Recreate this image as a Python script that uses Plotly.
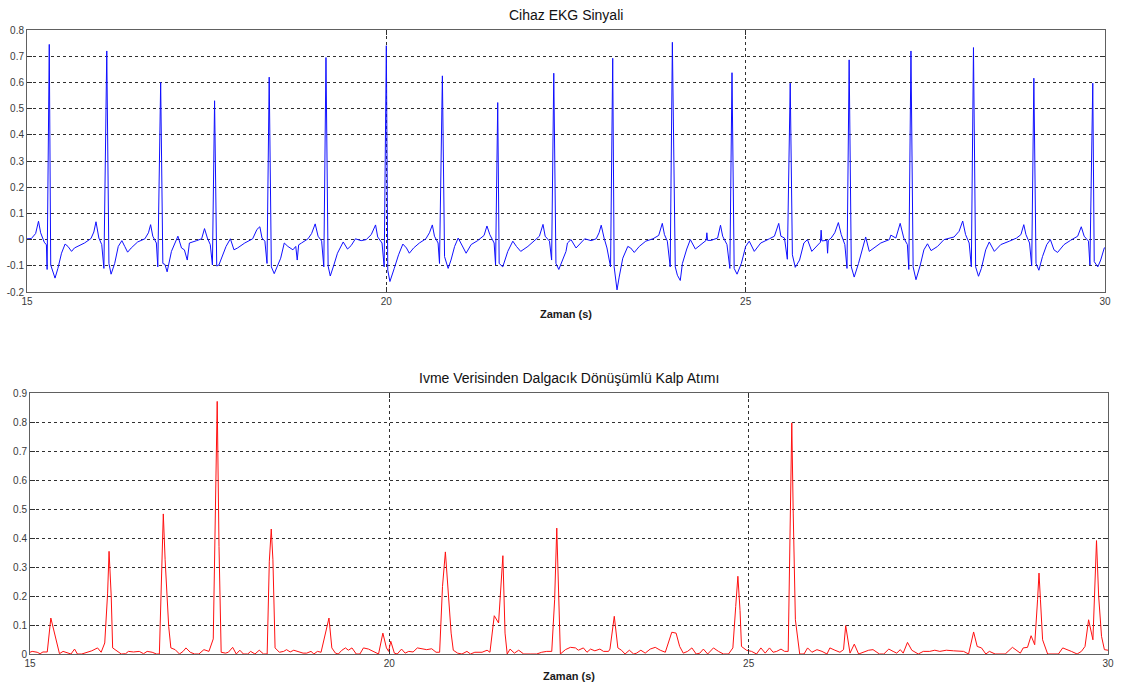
import plotly.graph_objects as go

# --- Cihaz EKG sinyali (zaman [s], genlik) ---
ekg_zaman = [
    15.00, 15.06, 15.12, 15.16, 15.19, 15.24, 15.27, 15.28, 15.31, 15.33, 15.39, 15.43, 15.48, 15.53, 15.57, 15.62, 15.66, 15.73, 15.80,
    15.89, 15.93, 15.96, 16.00, 16.04, 16.07, 16.11, 16.14, 16.17, 16.22, 16.27, 16.32, 16.36, 16.40, 16.45, 16.54, 16.64,
    16.69, 16.72, 16.75, 16.80, 16.82, 16.86, 16.89, 16.92, 16.95, 17.01, 17.08, 17.10, 17.15, 17.19, 17.23, 17.26, 17.36, 17.43,
    17.47, 17.51, 17.55, 17.58, 17.61, 17.64, 17.67, 17.71, 17.77, 17.83, 17.88, 17.93, 18.03, 18.14,
    18.20, 18.24, 18.27, 18.31, 18.34, 18.37, 18.40, 18.44, 18.48, 18.53, 18.58, 18.63, 18.70, 18.74, 18.76, 18.78, 18.82,
    18.91, 18.96, 19.01, 19.05, 19.10, 19.13, 19.16, 19.19, 19.22, 19.27, 19.32, 19.40, 19.46, 19.51, 19.57, 19.65, 19.72,
    19.79, 19.85, 19.88, 19.94, 19.97, 20.00, 20.02, 20.05, 20.11, 20.17, 20.23, 20.28, 20.32, 20.38, 20.46, 20.55,
    20.60, 20.64, 20.67, 20.72, 20.74, 20.78, 20.81, 20.86, 20.90, 20.95, 21.00, 21.06, 21.11, 21.18, 21.27,
    21.36, 21.40, 21.44, 21.50, 21.52, 21.55, 21.57, 21.62, 21.69, 21.76, 21.81, 21.87, 21.97, 22.06,
    22.13, 22.18, 22.21, 22.27, 22.30, 22.33, 22.36, 22.40, 22.45, 22.50,
    22.52, 22.57, 22.64, 22.76, 22.85, 22.92, 22.96, 22.99, 23.03, 23.07, 23.12, 23.15, 23.17, 23.21, 23.24, 23.29,
    23.36, 23.40, 23.45, 23.52, 23.61, 23.71, 23.79, 23.84, 23.87, 23.91, 23.95, 23.98, 24.02, 24.05, 24.09, 24.12,
    24.18, 24.23, 24.30, 24.38, 24.45, 24.46, 24.47, 24.52, 24.61, 24.65, 24.68, 24.74, 24.78, 24.81, 24.84, 24.88,
    24.94, 25.00, 25.05, 25.12, 25.21, 25.33, 25.40, 25.46, 25.49, 25.54, 25.58, 25.62, 25.65, 25.69, 25.75, 25.81,
    25.86, 25.92, 26.00, 26.04, 26.05, 26.06, 26.13, 26.14, 26.15, 26.19, 26.24,
    26.29, 26.33, 26.38, 26.41, 26.44, 26.47, 26.51, 26.57, 26.63, 26.67, 26.72, 26.79, 26.88, 27.00, 27.02, 27.09,
    27.15, 27.20, 27.25, 27.27, 27.30, 27.33, 27.37, 27.43, 27.48, 27.53, 27.58, 27.67, 27.76, 27.90,
    27.97, 28.02, 28.06, 28.11, 28.14, 28.17, 28.20, 28.24, 28.28, 28.34, 28.39, 28.46, 28.55, 28.67, 28.77,
    28.83, 28.87, 28.90, 28.95, 28.98, 29.01, 29.04, 29.08, 29.13, 29.19, 29.24, 29.29, 29.34, 29.43, 29.52,
    29.62, 29.67, 29.71, 29.77, 29.79, 29.83, 29.85, 29.90, 29.94, 29.99, 30.00,
]
ekg_genlik = [
    0.003, 0.004, 0.023, 0.070, 0.026, -0.010, -0.020, -0.114, 0.745, -0.097, -0.147, -0.110, -0.052, -0.017, -0.026, -0.045, -0.032, -0.023, -0.013,
    0.004, 0.029, 0.068, 0.006, -0.019, -0.110, 0.720, -0.091, -0.132, -0.091, -0.026, -0.004, -0.026, -0.048, -0.032, -0.009, 0.003,
    0.026, 0.057, 0.013, -0.013, -0.104, 0.600, -0.091, -0.095, -0.123, -0.045, 0.006, 0.013, -0.032, -0.039, -0.078, -0.013, -0.004, 0.003,
    0.042, 0.006, -0.019, -0.097, 0.530, -0.101, -0.097, -0.071, -0.026, 0.003, -0.039, -0.032, -0.013, 0.003,
    0.039, 0.049, 0.006, -0.006, -0.091, 0.620, -0.104, -0.130, -0.104, -0.071, -0.013, -0.026, -0.039, -0.026, -0.078, -0.020, -0.013,
    0.003, 0.023, 0.060, 0.013, -0.006, -0.104, 0.695, -0.101, -0.139, -0.097, -0.052, -0.009, -0.036, -0.023, 0.003, -0.004, 0.000,
    0.019, 0.056, 0.010, -0.013, -0.104, 0.740, -0.117, -0.160, -0.110, -0.058, -0.017, -0.032, -0.052, -0.032, -0.013, 0.003,
    0.026, 0.056, 0.013, -0.013, -0.091, 0.625, -0.065, -0.110, -0.078, -0.026, 0.006, -0.026, -0.052, -0.019, -0.004,
    0.016, 0.052, 0.019, -0.013, -0.097, 0.523, -0.091, -0.104, -0.045, -0.006, -0.026, -0.045, -0.026, -0.006,
    0.013, 0.058, 0.013, -0.006, -0.078, 0.635, -0.091, -0.114, -0.078, -0.045,
    -0.013, 0.000, -0.032, 0.003, -0.004, 0.003, 0.026, 0.055, 0.006, -0.032, -0.104, 0.692, -0.104, -0.192, -0.143, -0.071,
    -0.026, -0.032, -0.049, -0.026, -0.006, 0.003, 0.016, 0.062, 0.019, -0.006, -0.104, 0.753, -0.104, -0.136, -0.156, -0.091,
    -0.036, 0.000, -0.036, -0.019, -0.003, 0.026, -0.003, -0.003, 0.006, 0.055, 0.013, -0.019, -0.110, 0.637, -0.110, -0.132,
    -0.091, -0.026, -0.006, -0.045, -0.013, 0.003, 0.013, 0.062, 0.013, 0.006, -0.075, 0.597, -0.058, -0.106, -0.078, -0.013,
    0.000, -0.045, -0.023, -0.010, 0.036, -0.005, -0.003, -0.052, -0.003, 0.006, 0.026,
    0.065, 0.019, -0.019, -0.110, 0.686, -0.104, -0.143, -0.091, -0.026, 0.010, -0.045, -0.032, -0.013, 0.000, 0.017, 0.006,
    0.062, 0.006, -0.019, -0.114, 0.720, -0.104, -0.153, -0.097, -0.039, -0.016, -0.042, -0.026, 0.000, 0.010,
    0.032, 0.071, 0.019, -0.013, -0.104, 0.733, -0.104, -0.140, -0.110, -0.039, -0.009, -0.045, -0.019, -0.006, 0.006,
    0.019, 0.057, 0.019, -0.013, -0.101, 0.616, -0.091, -0.117, -0.065, -0.019, 0.000, -0.039, -0.049, -0.019, -0.003,
    0.013, 0.049, 0.013, -0.006, -0.097, 0.597, -0.084, -0.104, -0.078, -0.032, -0.030,
]

# --- İvme verisinden dalgacık dönüşümlü kalp atımı ---
atim_zaman = [
    15.00, 15.03, 15.10, 15.14, 15.18, 15.24, 15.29, 15.35, 15.41, 15.46, 15.51, 15.57, 15.62, 15.66, 15.72, 15.79, 15.86, 15.94, 15.99,
    16.04, 16.08, 16.10, 16.13, 16.15, 16.20, 16.27, 16.33, 16.37, 16.44, 16.52, 16.58, 16.63, 16.70, 16.76, 16.80,
    16.83, 16.855, 16.88, 16.93, 16.96, 17.02, 17.08, 17.13, 17.17, 17.23, 17.29, 17.35, 17.42, 17.49,
    17.55, 17.58, 17.605, 17.63, 17.66, 17.72, 17.76, 17.82, 17.87, 17.92, 17.97, 18.03, 18.07, 18.13, 18.19, 18.25, 18.30,
    18.33, 18.357, 18.38, 18.41, 18.47, 18.53, 18.57, 18.62, 18.67, 18.74, 18.80, 18.85, 18.91, 18.95, 19.00, 19.05,
    19.11, 19.16, 19.20, 19.25, 19.29, 19.34, 19.39, 19.43, 19.48, 19.54, 19.59, 19.64, 19.71, 19.78, 19.85,
    19.91, 19.96, 19.99, 20.02, 20.07, 20.11, 20.17, 20.22, 20.27, 20.33, 20.39, 20.45, 20.52, 20.59, 20.65, 20.70,
    20.74, 20.78, 20.81, 20.86, 20.89, 20.95, 21.01, 21.08, 21.13, 21.19, 21.29, 21.36, 21.40,
    21.46, 21.52, 21.58, 21.61, 21.64, 21.68, 21.74, 21.80, 21.87, 21.96, 22.05, 22.12, 22.19, 22.26,
    22.30, 22.33, 22.35, 22.38, 22.45, 22.52, 22.59, 22.63, 22.70, 22.75, 22.80, 22.86, 22.93, 22.98, 23.05, 23.07,
    23.13, 23.18, 23.23, 23.28, 23.34, 23.40, 23.44, 23.50, 23.56, 23.63, 23.70, 23.77, 23.84,
    23.88, 23.93, 23.99, 24.04, 24.09, 24.15, 24.21, 24.27, 24.32, 24.37, 24.43, 24.51, 24.58, 24.65, 24.72, 24.78,
    24.82, 24.85, 24.88, 24.90, 24.97, 25.04, 25.11, 25.17, 25.23, 25.29, 25.34, 25.39, 25.45, 25.50, 25.55,
    25.58, 25.60, 25.62, 25.65, 25.71, 25.77, 25.82, 25.88, 25.95, 26.02, 26.09, 26.13, 26.20, 26.27, 26.32,
    26.35, 26.41, 26.47, 26.53, 26.60, 26.67, 26.73, 26.82, 26.88, 26.95, 27.01, 27.06, 27.11, 27.15,
    27.21, 27.27, 27.36, 27.43, 27.52, 27.59, 27.66, 27.75, 27.85, 27.92, 27.99, 28.06,
    28.13, 28.18, 28.24, 28.30, 28.35, 28.43, 28.50, 28.57, 28.67, 28.73, 28.78, 28.82, 28.88,
    28.93, 28.98, 29.02, 29.04, 29.06, 29.09, 29.16, 29.24, 29.31, 29.37, 29.42, 29.49, 29.57, 29.63, 29.68,
    29.73, 29.79, 29.82, 29.84, 29.87, 29.91, 29.95, 29.99, 30.00,
]
atim_deger = [
    0.006, 0.009, 0.006, 0.001, 0.007, 0.007, 0.124, 0.061, 0.001, 0.009, 0.006, 0.000, 0.017, 0.000, 0.000, 0.006, 0.011, 0.021, 0.006,
    0.038, 0.210, 0.354, 0.200, 0.021, 0.013, 0.000, 0.001, 0.009, 0.007, 0.009, 0.001, 0.009, 0.006, 0.000, 0.000,
    0.256, 0.483, 0.325, 0.095, 0.021, 0.015, 0.000, 0.009, 0.021, 0.006, 0.000, 0.000, 0.015, 0.009,
    0.052, 0.532, 0.871, 0.371, 0.006, 0.003, 0.006, 0.023, 0.000, 0.013, 0.000, 0.000, 0.009, 0.000, 0.013, 0.000, 0.000,
    0.320, 0.431, 0.325, 0.021, 0.006, 0.009, 0.015, 0.007, 0.013, 0.009, 0.003, 0.003, 0.009, 0.000, 0.009, 0.006,
    0.072, 0.124, 0.021, 0.003, 0.000, 0.013, 0.021, 0.013, 0.021, 0.000, 0.000, 0.021, 0.017, 0.009, 0.000,
    0.072, 0.021, 0.009, 0.044, 0.003, 0.000, 0.017, 0.003, 0.009, 0.007, 0.021, 0.017, 0.015, 0.018, 0.006, 0.006,
    0.233, 0.352, 0.233, 0.072, 0.013, 0.003, 0.000, 0.009, 0.000, 0.006, 0.006, 0.013, 0.006,
    0.132, 0.107, 0.339, 0.072, 0.000, 0.017, 0.003, 0.013, 0.000, 0.000, 0.000, 0.006, 0.009, 0.009,
    0.187, 0.434, 0.233, 0.000, 0.015, 0.023, 0.021, 0.013, 0.021, 0.006, 0.017, 0.011, 0.017, 0.009, 0.009, 0.017,
    0.130, 0.021, 0.013, 0.000, 0.013, 0.000, 0.003, 0.013, 0.003, 0.017, 0.023, 0.013, 0.006,
    0.038, 0.075, 0.072, 0.026, 0.003, 0.009, 0.021, 0.000, 0.003, 0.017, 0.000, 0.021, 0.009, 0.000, 0.000, 0.021,
    0.164, 0.268, 0.150, 0.026, 0.013, 0.009, 0.000, 0.021, 0.003, 0.021, 0.006, 0.009, 0.017, 0.009, 0.009,
    0.463, 0.797, 0.486, 0.118, 0.000, 0.000, 0.021, 0.006, 0.015, 0.009, 0.000, 0.021, 0.013, 0.006, 0.015,
    0.098, 0.003, 0.034, 0.000, 0.006, 0.013, 0.015, 0.000, 0.000, 0.017, 0.009, 0.003, 0.015, 0.003,
    0.040, 0.013, 0.000, 0.009, 0.009, 0.013, 0.009, 0.013, 0.011, 0.009, 0.009, 0.000,
    0.076, 0.026, 0.021, 0.000, 0.009, 0.000, 0.000, 0.000, 0.023, 0.013, 0.003, 0.021, 0.023,
    0.063, 0.032, 0.187, 0.279, 0.187, 0.049, 0.000, 0.000, 0.000, 0.021, 0.015, 0.009, 0.000, 0.009, 0.026,
    0.118, 0.049, 0.256, 0.391, 0.199, 0.061, 0.015, 0.013, 0.013,
]

# Eksen etiketleri
x_tikler = [15, 20, 25, 30]
ust_y_tikler = [-0.2, -0.1, 0, 0.1, 0.2, 0.3, 0.4, 0.5, 0.6, 0.7, 0.8]
ust_y_etiket = ["-0.2", "-0.1", "0", "0.1", "0.2", "0.3", "0.4", "0.5", "0.6", "0.7", "0.8"]
alt_y_tikler = [0, 0.1, 0.2, 0.3, 0.4, 0.5, 0.6, 0.7, 0.8, 0.9]
alt_y_etiket = ["0", "0.1", "0.2", "0.3", "0.4", "0.5", "0.6", "0.7", "0.8", "0.9"]

W, H = 1121, 693
ML, MR, MT, MB = 27, 13, 30, 39
pw = W - ML - MR
ph = H - MT - MB

FONT = "Liberation Sans, Arial, sans-serif"
TICKFONT = dict(family=FONT, size=10, color="#3a3a3a")

fig = go.Figure()
fig.add_trace(go.Scatter(x=ekg_zaman, y=ekg_genlik, mode="lines",
                         line=dict(color="#1010ff", width=1), xaxis="x", yaxis="y",
                         showlegend=False, hoverinfo="skip"))
fig.add_trace(go.Scatter(x=atim_zaman, y=atim_deger, mode="lines",
                         line=dict(color="#ff1010", width=1), xaxis="x2", yaxis="y2",
                         showlegend=False, hoverinfo="skip"))

def eksen(**kw):
    d = dict(showline=True, linecolor="#606060", linewidth=1, mirror="ticks",
             ticks="inside", ticklen=5, tickcolor="#303030", tickwidth=1,
             showgrid=True, gridcolor="#303030", griddash="dot", gridwidth=1,
             zeroline=False, tickfont=TICKFONT, automargin=False, fixedrange=True)
    d.update(kw)
    return d

def px_x(a, b):
    return [(a - ML) / pw, (b - ML) / pw]

def px_y(top, bottom):
    return [(H - MB - bottom) / ph, (H - MB - top) / ph]

def kagit(px, py):
    # piksel konumunu kağıt koordinatına çevir
    return (px - ML) / pw, (H - py - MB) / ph

xt = dict(family=FONT, size=11, color="#1a1a1a")
bx1, by1 = kagit(566, 15)
bx2, by2 = kagit(569, 378)

fig.update_layout(
    width=W, height=H,
    margin=dict(l=ML, r=MR, t=MT, b=MB, pad=0),
    paper_bgcolor="white", plot_bgcolor="white",
    xaxis=eksen(domain=px_x(27, 1105), range=[15, 30], tickvals=x_tikler,
                ticktext=[str(v) for v in x_tikler], anchor="y",
                title=dict(text="<b>Zaman (s)</b>", font=xt, standoff=4)),
    yaxis=eksen(domain=px_y(30, 292), range=[-0.2, 0.8], tickvals=ust_y_tikler,
                ticktext=ust_y_etiket, anchor="x"),
    xaxis2=eksen(domain=px_x(30, 1108), range=[15, 30], tickvals=x_tikler,
                 ticktext=[str(v) for v in x_tikler], anchor="y2",
                 title=dict(text="<b>Zaman (s)</b>", font=xt, standoff=4)),
    yaxis2=eksen(domain=px_y(393, 654), range=[0, 0.9], tickvals=alt_y_tikler,
                 ticktext=alt_y_etiket, anchor="x2"),
    annotations=[
        dict(text="Cihaz EKG Sinyali", x=bx1, y=by1, xref="paper", yref="paper",
             xanchor="center", yanchor="middle", showarrow=False,
             font=dict(family=FONT, size=14, color="#111")),
        dict(text="Ivme Verisinden Dalgacık Dönüşümlü Kalp Atımı", x=bx2, y=by2,
             xref="paper", yref="paper", xanchor="center", yanchor="middle",
             showarrow=False, font=dict(family=FONT, size=14, color="#111")),
    ],
)

fig.write_html("out.html", config={"displayModeBar": False})
